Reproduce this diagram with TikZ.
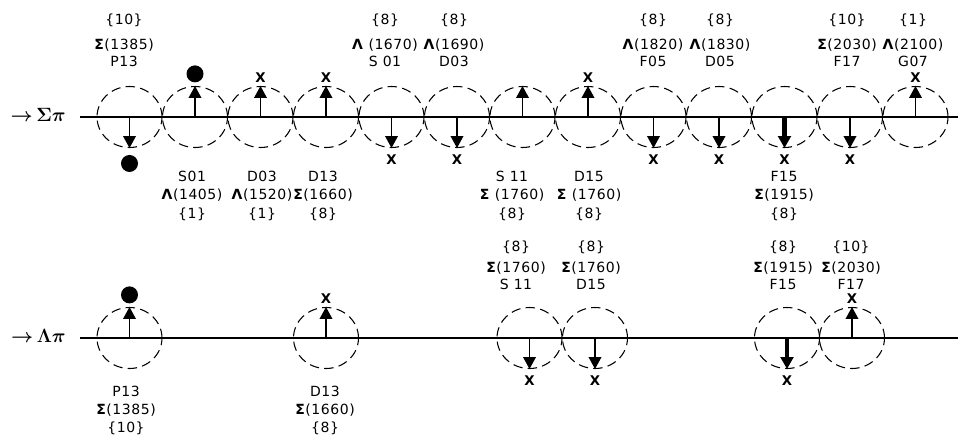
\documentclass[tikz,border=0pt]{standalone}
\usepackage{amsmath}
\usepackage{fontspec}
\setmainfont[LetterSpace=4]{DejaVu Sans}
\usepackage{tikz}
\usetikzlibrary{positioning, shapes, arrows.meta}

\tikzset{
  reson/.style={draw, ellipse, dash pattern=on 7pt off 4pt, line width=0.8pt,
    minimum width=48.75pt, minimum height=45.75pt, inner sep=0pt},
  amp/.style={-{Triangle[width=9.5pt,length=9pt]}},
  fine/.style={line width=1.1pt},
  heavy/.style={line width=3.5pt},
  axis/.style={line width=1.3pt},
  blob/.style={circle, fill, minimum size=12.75pt, inner sep=0pt, node contents={}},
  cross/.style={font=\bfseries, inner sep=0pt, node contents=X},
  symnorth/.style={anchor=south, yshift=2.5pt},
  symsouth/.style={anchor=north, yshift=-5pt},
  lab/.style={font=\fontsize{10.5}{12}\selectfont, inner sep=0pt, anchor=base},
  chan/.style={font=\fontsize{15}{15}\selectfont, inner sep=0pt, anchor=east}
}

\begin{document}
\begin{tikzpicture}[x=0.75pt, y=-0.75pt]
\useasboundingbox (0,0) rectangle (958,436);

% Sigma pi channel
\node[chan] (sp) at (66,115) {$\boldsymbol{\mathord{\rightarrow}\,\Sigma\pi}$};
\coordinate (sl) at (80,117);
\coordinate (sr) at (958,117);
\draw[axis] (sl) -- (sr);
\foreach \i/\a/\w in {0/south/fine, 1/north/fine, 2/north/fine, 3/north/fine,
    4/south/fine, 5/south/fine, 6/north/fine, 7/north/fine, 8/south/fine,
    9/south/fine, 10/south/heavy, 11/south/fine, 12/north/fine}{
  \node[reson] (s\i) at (129.5+65.5*\i, 117) {};
  \draw[amp, \w] (s\i.center) -- (s\i.\a);
}
\foreach \i/\a/\m in {0/south/blob, 1/north/blob, 2/north/cross, 3/north/cross,
    4/south/cross, 5/south/cross, 7/north/cross, 8/south/cross, 9/south/cross,
    10/south/cross, 11/south/cross, 12/north/cross}
  \node[\m, at={(s\i.\a)}, sym\a, name=m\i];

% labels above the Sigma pi line
\foreach \x/\b/\m/\w [count=\n] in {124/\{10\}/\textbf{Σ}(1385)/P13,
    385/\{8\}/\textbf{Λ} (1670)/S 01, 454/\{8\}/\textbf{Λ}(1690)/D03,
    653/\{8\}/\textbf{Λ}(1820)/F05, 720/\{8\}/\textbf{Λ}(1830)/D05,
    847/\{10\}/\textbf{Σ}(2030)/F17, 913/\{1\}/\textbf{Λ}(2100)/G07}{
  \node[lab] (ta\n) at (\x, 24.5) {\b};
  \node[lab] (tb\n) at (\x, 49.5) {\m};
  \node[lab] (tc\n) at (\x, 66.5) {\w};
}
% labels below the Sigma pi line
\foreach \x/\w/\m/\b [count=\n] in {192/S01/\textbf{Λ}(1405)/\{1\},
    262/D03/\textbf{Λ}(1520)/\{1\}, 323/D13/\textbf{Σ}(1660)/\{8\},
    512/S 11/\textbf{Σ} (1760)/\{8\}, 589/D15/\textbf{Σ} (1760)/\{8\},
    784/F15/\textbf{Σ}(1915)/\{8\}}{
  \node[lab] (ba\n) at (\x, 181.5) {\w};
  \node[lab] (bb\n) at (\x, 199.5) {\m};
  \node[lab] (bc\n) at (\x, 218.5) {\b};
}

% Lambda pi channel
\node[chan] (lp) at (66,336) {$\boldsymbol{\mathord{\rightarrow}\,\Lambda\pi}$};
\coordinate (ll) at (80,338);
\coordinate (lr) at (958,338);
\draw[axis] (ll) -- (lr);
\foreach \x/\a/\w/\m [count=\n] in {129.5/north/fine/blob, 326/north/fine/cross,
    529.5/south/fine/cross, 595/south/fine/cross, 787/south/heavy/cross,
    852/north/fine/cross}{
  \node[reson] (l\n) at (\x, 338) {};
  \draw[amp, \w] (l\n.center) -- (l\n.\a);
  \node[\m, at={(l\n.\a)}, sym\a, name=k\n];
}

% labels above the Lambda pi line
\foreach \x/\b/\m/\w [count=\n] in {516/\{8\}/\textbf{Σ}(1760)/S 11,
    591/\{8\}/\textbf{Σ}(1760)/D15, 783/\{8\}/\textbf{Σ}(1915)/F15,
    851/\{10\}/\textbf{Σ}(2030)/F17}{
  \node[lab] (ua\n) at (\x, 251.5) {\b};
  \node[lab] (ub\n) at (\x, 272.5) {\m};
  \node[lab] (uc\n) at (\x, 289.5) {\w};
}
% labels below the Lambda pi line
\foreach \x/\w/\m/\b [count=\n] in {126/P13/\textbf{Σ}(1385)/\{10\},
    325/D13/\textbf{Σ}(1660)/\{8\}}{
  \node[lab] (da\n) at (\x, 396.5) {\w};
  \node[lab] (db\n) at (\x, 414.5) {\m};
  \node[lab] (dc\n) at (\x, 432.5) {\b};
}
\end{tikzpicture}
\end{document}
